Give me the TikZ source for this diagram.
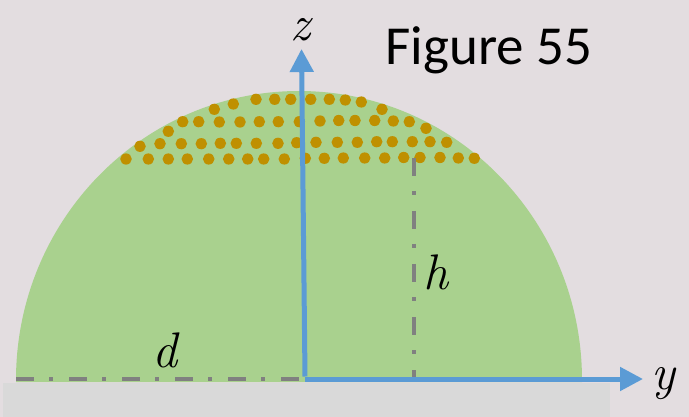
\documentclass[tikz,border=0pt]{standalone}
\usepackage{fontspec}
\newfontfamily\calib{Carlito}
\usetikzlibrary{arrows.meta}
\definecolor{bgc}{HTML}{E3DDE0}
\definecolor{barc}{HTML}{D9D9D9}
\definecolor{greenc}{HTML}{A9D18E}
\definecolor{bluec}{HTML}{5B9BD5}
\definecolor{dotc}{HTML}{BF9000}
\definecolor{dashc}{HTML}{808080}
\tikzset{
  axisline/.style={bluec, line width=5pt, -{Triangle[length=23pt,width=23pt]}},
  dashdot/.style={dashc, line width=4pt, dash pattern=on 18pt off 15pt on 4pt off 16pt},
  lbl/.style={inner sep=0pt, font=\fontsize{50}{50}\selectfont\itshape}
}
\begin{document}
\begin{tikzpicture}[x=1pt,y=-1pt]
\useasboundingbox (0,0) rectangle (689,417);
\fill[bgc] (0,0) rectangle (689,417);
% green dome
\fill[greenc] (16,382) -- (16,380) arc[start angle=180, end angle=360, x radius=283, y radius=289] -- (582,382) -- cycle;
% ground bar
\fill[barc] (3,382.5) rectangle (610,417);
% drops
\foreach \x/\y in {256/99.3,274.7/99.3,290.7/99.3,310.7/99.3,329.3/99.3,345.3/100,361.3/102,233.3/104,214.3/109.3,382/109.3,
182.7/121.7,198.7/121.7,219.3/122,240/122,259.3/121.7,278.3/121.7,299.3/121.7,320/121,338.7/120.5,355/120.5,374.7/120.5,393.3/121,409.3/121.7,168.3/131.3,426/128.3,
140/146.3,160/143.7,181.3/143.7,201.3/143.7,220.3/143.3,236.3/143.3,256.3/143.3,278/143.3,296.7/142.7,316/142.3,337.3/142.3,357.3/142.3,376.7/141.7,392.3/141.7,412.3/141.7,430/141.7,446.7/142.3,
126/159,148.3/159,168.3/159,187.3/159,208.7/159,228.7/159,247.7/159,263.7/159,284.3/159,305.3/158.3,324.3/158.3,343.3/158,364.7/158,384.7/158,403.7/157.5,420/157.5,440/157.5,458.3/158,474.3/158.3}
  \fill[dotc] (\x,\y) ellipse[x radius=5.8pt, y radius=5.6pt];
% coordinates
\coordinate (O) at (305,379);
\coordinate (dleft) at (16,379);
\coordinate (hbase) at (414,379);
\coordinate (htop) at (414,158);
\coordinate (ytip) at (643,379);
\coordinate (ztip) at (301.5,49);
% dashed guides
\draw[dashdot] (dleft) -- (O);
\draw[dashdot] (htop) -- (hbase);
% axes
\draw[axisline] (O) -- (ytip);
\draw[axisline] ([yshift=2.5pt]O) -- (ztip);
% labels
\node[lbl] (zl) at (300,30) {z};
\node[lbl] (yl) at (663,384) {y};
\node[lbl] (dl) at (165,350) {d};
\node[lbl] (hl) at (436,272) {h};
\node[inner sep=0pt, anchor=base, font=\calib\fontsize{55}{55}\selectfont] (title) at (489,65) {Figure 55};
\end{tikzpicture}
\end{document}
